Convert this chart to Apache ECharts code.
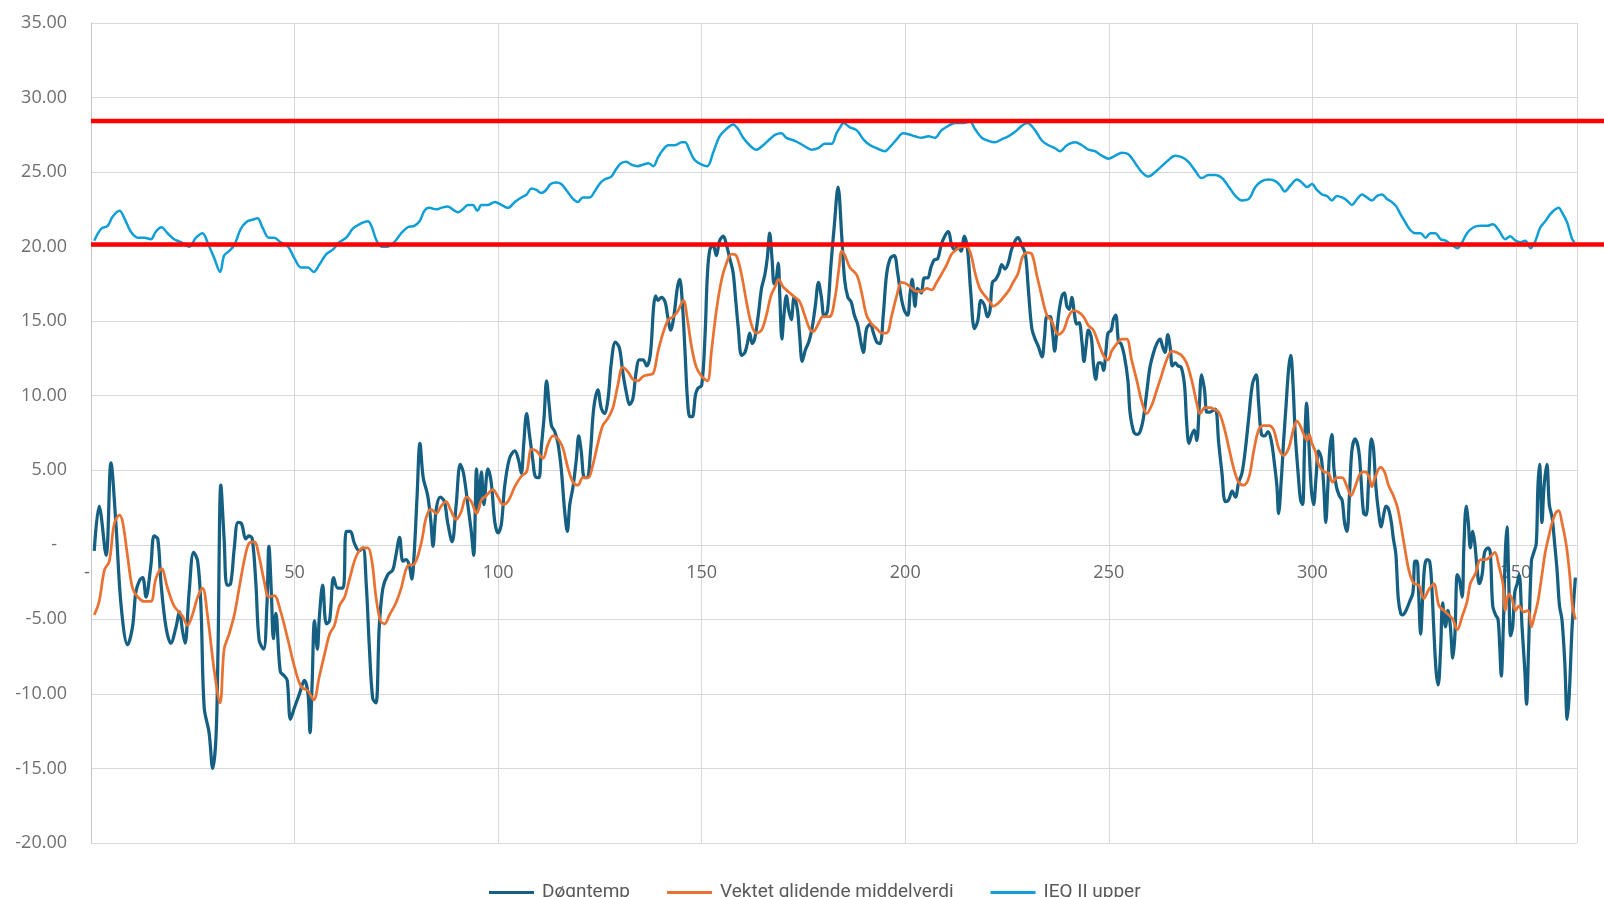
<!DOCTYPE html>
<html>
<head>
<meta charset="utf-8">
<script src="https://cdn.jsdelivr.net/npm/echarts@6/dist/echarts.min.js"></script>
<style>
html,body{margin:0;padding:0;background:#fff;}
#c{width:1604px;height:897px;}
</style>
</head>
<body>
<div id="c"></div>
<script>
// ---- Data (x = day of year) ----
const seriesNames = ['Døgntemp', 'Vektet glidende middelverdi', 'IEQ II upper'];

const dtDays = [0.8,2.0,3.7,4.9,6.1,7.4,9.0,10.2,11.0,11.9,12.7,13.5,14.7,15.5,16.4,17.2,18.4,19.6,20.9,21.7,22.5,23.1,24.1,25.2,26.2,27.0,27.8,29.0,29.9,30.7,31.2,31.9,32.7,33.4,34.3,35.2,36.1,37.0,38.0,38.8,39.6,40.5,41.3,42.4,43.2,43.7,44.3,44.8,45.4,46.5,47.5,48.2,49.0,50.0,51.2,52.4,53.3,53.8,54.3,54.9,55.6,56.1,56.9,57.8,58.6,59.6,60.6,61.9,62.7,63.7,64.7,65.9,66.8,67.6,68.4,69.2,70.0,70.8,71.7,72.9,74.1,74.9,75.8,76.6,77.4,78.2,78.8,79.4,80.1,80.8,81.6,82.7,83.5,84.0,84.8,85.8,86.8,87.6,88.7,89.7,90.7,91.5,92.6,93.4,94.0,94.7,95.2,95.9,96.5,97.5,98.3,99.2,100.0,100.8,101.6,102.8,104.1,105.0,105.7,106.3,107.0,107.7,108.6,109.1,110.0,110.6,111.3,111.9,112.6,113.1,113.9,114.7,115.5,116.3,117.0,117.6,118.4,119.2,119.8,120.4,121.2,121.9,122.7,123.5,124.5,125.3,126.1,127.0,127.8,128.8,129.8,130.6,131.5,132.3,133.1,133.9,134.7,135.6,136.5,137.4,138.2,138.7,139.3,140.1,141.0,141.6,142.4,143.2,144.0,144.6,145.3,145.9,146.5,147.1,147.7,148.5,149.1,150.0,150.8,151.4,152.0,152.8,153.6,154.4,155.3,156.1,156.9,157.7,158.3,159.0,159.8,160.6,161.2,161.8,162.4,163.0,163.9,164.7,165.5,166.1,166.7,167.3,167.8,168.3,168.8,169.2,169.7,170.2,170.8,171.4,172.0,172.7,173.5,174.1,174.7,175.5,176.3,177.1,177.9,178.7,179.4,180.1,180.9,181.7,182.6,183.5,184.4,185.1,185.9,186.7,187.5,188.3,189.1,189.7,190.5,191.4,192.2,193.0,193.8,194.6,195.4,196.3,197.3,198.1,199.0,199.8,200.6,201.2,201.7,202.4,203.0,203.9,204.7,205.5,206.3,207.1,208.0,208.8,209.7,210.6,211.4,212.2,213.0,213.7,214.5,215.3,216.1,217.0,217.8,218.6,219.4,220.2,220.8,221.4,222.2,223.0,223.7,224.5,225.3,226.1,227.0,227.7,228.6,229.5,230.3,231.1,231.9,232.7,233.6,234.2,234.8,235.6,236.2,236.7,237.2,237.8,238.5,239.1,239.7,240.3,240.9,241.6,242.1,242.7,243.4,243.9,244.4,245.0,245.7,246.2,246.8,247.5,248.1,248.7,249.3,249.8,250.6,251.1,251.7,252.4,253.0,253.8,254.7,255.2,256.1,256.9,257.7,258.5,259.3,260.1,261.0,261.8,262.6,263.2,263.8,264.5,265.1,265.6,266.3,267.0,267.8,268.6,269.1,269.7,270.4,271.0,271.6,272.2,272.8,273.5,274.1,274.8,275.5,276.2,277.0,277.8,278.6,279.4,280.3,281.1,281.9,282.7,283.5,284.4,285.3,286.2,286.8,287.5,288.3,289.1,289.9,290.7,291.3,291.7,292.4,292.9,293.5,294.2,294.7,295.2,295.8,296.5,297.1,297.6,298.1,298.6,299.1,299.7,300.3,300.9,301.5,302.2,302.8,303.3,303.8,304.3,304.8,305.3,305.9,306.6,307.3,307.9,308.5,309.1,309.7,310.5,311.4,312.0,312.6,313.2,313.8,314.5,315.0,315.6,316.3,316.9,317.5,318.1,318.7,319.4,319.9,320.5,321.1,321.7,322.2,323.0,323.9,324.7,325.2,325.7,326.1,326.6,327.1,327.6,328.2,328.8,329.3,329.8,330.4,330.9,331.5,332.0,332.7,333.3,333.9,334.5,335.0,335.6,336.1,336.8,337.2,337.8,338.3,338.8,339.4,339.9,340.5,341.0,341.7,342.3,343.2,343.7,344.3,345.0,345.6,346.0,346.4,346.9,347.4,347.8,348.2,348.7,349.2,349.7,350.3,350.8,351.5,352.2,352.6,353.1,353.8,354.4,355.0,355.4,355.8,356.4,356.9,357.6,358.2,358.9,359.5,360.1,360.7,361.3,362.0,362.6,363.1,363.8,364.6];
const dtVals = [-0.4,2.6,-0.7,5.5,1.5,-4.1,-6.7,-5.5,-3.2,-2.4,-2.2,-3.5,-1.4,0.6,0.4,-2.6,-5.5,-6.6,-5.5,-4.5,-5.8,-6.6,-3.2,-0.5,-1.1,-4.1,-10.9,-12.6,-15.0,-12.9,-7.0,4.0,0.4,-2.7,-2.6,-0.2,1.5,1.4,0.4,0.6,0.4,-2.6,-6.4,-7.0,-4.1,-0.1,-3.2,-6.3,-4.6,-8.5,-8.8,-9.1,-11.7,-10.9,-10.0,-9.1,-10.0,-12.6,-9.4,-5.1,-7.0,-4.8,-2.7,-5.3,-5.1,-2.2,-2.9,-2.9,0.9,0.9,0.1,-0.4,-0.2,-2.6,-7.0,-10.3,-10.6,-5.5,-2.9,-2.0,-1.7,-0.7,0.5,-1.1,-1.0,-1.4,-2.3,-0.5,3.3,6.8,4.5,3.3,1.5,-0.1,2.4,3.2,2.9,1.5,0.2,2.7,5.4,4.8,2.6,0.9,-0.7,5.1,2.4,4.9,2.7,5.1,4.2,1.5,0.8,1.4,3.9,5.8,6.3,5.7,4.8,6.8,8.8,7.4,5.5,4.6,4.5,6.5,8.6,11.0,9.2,8.0,7.6,6.8,5.1,2.4,0.9,2.7,3.9,5.7,7.3,6.3,4.5,4.5,6.3,9.2,10.4,9.2,8.8,9.8,12.2,13.6,13.2,11.6,10.2,9.4,9.8,11.6,12.4,12.4,12.0,12.8,16.0,16.7,16.4,16.6,16.3,15.4,14.4,15.4,17.2,17.8,16.0,13.0,9.8,8.6,8.6,10.1,10.5,10.7,13.9,18.1,19.8,20.1,19.4,20.4,20.7,20.1,19.2,18.3,16.6,14.5,12.7,12.9,13.5,14.2,13.5,13.8,15.4,17.2,18.1,19.2,20.9,19.1,17.5,17.8,18.9,16.6,13.8,15.4,16.7,15.7,15.1,16.6,15.8,13.9,12.3,13.1,13.6,14.5,16.0,17.6,16.6,15.3,15.7,18.6,21.5,24.0,20.7,17.8,16.6,16.3,15.4,14.8,13.6,12.9,14.5,14.8,14.2,13.6,13.5,15.4,18.1,19.2,19.4,18.3,16.6,15.7,15.4,16.9,17.8,16.0,17.2,16.9,17.9,17.9,18.6,19.1,19.2,20.1,20.7,21.0,20.1,19.8,20.0,19.7,20.7,19.8,16.9,14.5,15.0,16.4,16.1,15.3,15.7,17.6,17.8,18.2,18.8,18.5,18.9,19.8,20.4,20.6,20.1,19.5,16.9,14.5,13.8,13.3,12.6,13.9,15.3,15.3,14.2,13.0,14.2,15.7,16.7,16.9,16.0,15.8,16.6,15.4,14.8,14.9,13.6,12.3,13.3,14.4,13.9,12.2,11.1,12.2,12.2,11.7,13.0,14.2,14.4,15.1,15.4,13.6,13.5,12.7,11.0,8.9,7.6,7.4,7.6,8.5,10.2,11.9,12.9,13.5,13.8,13.3,12.9,14.1,13.2,12.0,12.2,12.0,11.9,10.7,8.3,6.8,7.4,7.7,7.0,9.2,11.4,10.4,8.9,8.9,9.0,9.1,6.8,4.8,2.9,3.0,3.6,3.2,4.2,4.8,6.3,8.6,10.8,11.4,9.5,7.4,7.3,7.6,7.0,5.4,3.9,2.1,4.5,6.8,9.2,11.9,12.7,11.0,7.4,4.8,3.0,2.7,6.8,9.5,7.1,3.9,2.7,4.5,6.3,5.8,3.9,1.5,3.9,6.5,7.4,5.1,3.9,3.3,3.0,1.5,0.9,3.3,6.3,7.1,6.3,4.2,2.1,2.0,4.2,7.1,6.5,3.9,2.1,1.2,2.0,2.6,2.4,1.5,0.4,-0.6,-3.6,-4.6,-4.7,-4.4,-3.8,-3.2,-1.1,-1.1,-3.2,-6.0,-3.5,-1.4,-1.0,-1.1,-2.6,-5.5,-8.5,-9.4,-7.0,-3.9,-5.5,-4.4,-5.5,-7.6,-6.1,-2.0,-2.3,-3.5,-0.2,2.6,1.5,-0.2,0.9,0.1,-1.7,-2.6,-2.0,-0.5,-0.2,-0.5,-4.1,-4.7,-5.0,-6.7,-8.8,-5.5,-0.5,1.2,-2.0,-6.1,-5.5,-3.2,-2.6,-2.0,-5.5,-8.5,-10.7,-7.0,-1.1,-0.5,0.1,3.9,5.4,1.5,3.9,5.4,2.7,1.8,0.1,-1.7,-4.1,-5.0,-7.9,-11.7,-10.0,-5.5,-2.2];

const maDays = [0.8,2.0,3.3,4.5,5.7,7.0,7.8,9.0,10.2,11.5,13.1,14.7,15.9,17.3,18.8,20.4,22.5,23.7,24.9,26.2,27.4,28.6,30.3,31.7,32.7,33.9,35.2,36.4,37.6,38.8,40.1,41.3,42.5,43.7,45.0,46.5,48.4,50.0,51.6,53.3,54.7,56.1,57.4,58.6,59.8,61.0,62.3,63.5,65.1,66.8,68.0,69.0,70.0,71.1,72.1,73.3,74.9,76.2,77.8,79.4,81.1,82.3,83.5,84.8,86.0,87.2,88.4,89.7,90.9,92.2,93.4,94.7,95.9,97.1,98.7,100.0,101.2,102.4,104.1,105.7,107.0,108.2,109.4,111.0,112.2,113.5,114.7,115.9,117.1,118.4,119.6,120.8,122.1,123.3,124.5,125.7,127.0,128.2,129.4,130.6,131.9,133.1,134.3,135.6,136.8,138.1,139.3,140.5,141.8,143.0,144.2,145.5,146.5,147.5,148.7,150.0,151.4,152.4,153.6,154.9,156.1,157.3,158.5,159.8,161.0,162.2,163.4,164.7,165.9,167.0,168.0,168.9,170.0,171.2,172.9,174.1,175.3,176.5,177.4,178.6,179.8,181.4,182.7,183.7,184.4,185.2,186.4,188.1,189.3,190.5,191.8,193.0,194.2,195.4,196.7,197.9,199.1,200.3,201.6,202.8,204.0,205.3,206.5,207.7,209.0,210.2,211.4,212.6,213.8,215.1,216.1,217.1,218.3,219.6,220.8,221.6,222.8,224.1,225.3,226.5,227.7,228.8,229.9,231.1,232.3,233.6,234.8,236.0,237.6,238.9,240.1,241.3,242.6,243.8,245.0,246.2,247.5,248.7,249.8,250.7,252.0,253.2,254.4,255.6,256.9,258.1,259.3,260.6,261.8,263.0,264.2,265.5,266.7,267.9,269.1,270.4,271.6,272.4,273.6,274.9,275.8,277.0,278.2,279.5,280.7,281.9,283.1,284.4,285.6,286.8,288.0,289.3,290.5,291.7,292.9,294.2,295.4,296.2,297.0,297.9,298.7,299.2,299.9,300.7,301.5,302.8,304.0,305.0,306.0,307.3,308.5,309.5,310.5,311.8,313.0,314.0,314.6,315.4,316.7,317.7,318.7,319.9,321.0,322.5,323.7,324.9,326.1,327.4,328.6,329.8,331.1,332.3,333.5,334.5,335.6,336.8,338.0,338.8,340.1,341.3,342.5,343.7,344.8,345.8,346.8,347.4,348.2,349.0,349.9,350.8,351.9,353.0,353.8,354.6,355.4,356.4,357.2,358.1,358.9,359.7,360.5,361.3,362.3,363.1,363.9,364.6];
const maVals = [-4.7,-3.8,-1.7,-1.1,1.4,2.0,1.5,-0.8,-2.9,-3.5,-3.8,-3.8,-2.3,-1.6,-2.9,-4.1,-4.8,-5.4,-4.7,-3.5,-2.9,-4.7,-8.5,-10.6,-7.0,-6.0,-4.7,-2.9,-1.1,0.1,0.2,-0.8,-2.4,-3.5,-3.4,-4.4,-6.4,-8.2,-9.5,-9.8,-10.4,-8.8,-7.3,-6.0,-5.4,-4.1,-3.5,-2.3,-0.8,-0.2,-0.2,-1.1,-3.5,-5.1,-5.3,-4.7,-3.9,-2.9,-1.4,-1.3,0.1,1.8,2.4,2.1,2.6,2.9,2.3,1.7,2.2,3.2,2.9,2.1,3.0,3.3,3.7,3.2,2.7,2.9,3.9,4.6,4.9,6.4,6.3,5.8,6.7,7.3,7.1,6.5,5.2,4.2,4.0,4.5,4.5,5.4,6.8,8.0,8.5,9.2,10.7,11.9,11.6,11.1,11.0,11.3,11.4,11.5,13.0,14.2,15.1,15.3,15.7,16.4,15.1,13.3,11.9,11.3,11.0,13.0,15.7,17.8,18.9,19.5,19.4,18.1,16.3,14.8,14.2,14.4,15.4,16.7,17.3,17.8,17.3,17.0,16.6,16.3,15.4,14.5,14.3,14.8,15.3,15.3,16.5,18.5,19.7,19.4,18.6,18.1,16.9,15.4,14.8,14.5,14.2,14.2,15.4,16.7,17.6,17.5,17.2,17.0,17.0,17.2,17.1,17.6,18.2,18.8,19.5,19.8,20.0,20.0,19.5,18.3,17.2,16.7,16.3,16.0,16.2,16.6,17.0,17.6,18.2,19.3,19.6,19.5,18.1,16.6,15.4,15.0,14.1,14.4,15.3,15.7,15.6,15.3,14.7,14.4,13.5,12.7,12.4,13.0,13.5,13.8,13.8,12.4,11.0,9.6,8.8,9.4,10.4,11.4,12.4,13.0,12.9,12.7,12.2,11.0,9.5,8.8,9.2,9.2,9.1,8.9,8.0,6.5,5.1,4.2,4.0,4.5,6.3,7.7,8.0,8.0,7.7,6.5,6.0,6.5,7.8,8.3,8.0,7.4,7.0,7.4,6.8,6.3,5.4,4.9,4.8,4.2,4.5,4.5,3.9,3.3,3.9,4.8,4.9,4.5,3.9,4.5,5.2,4.9,4.0,3.3,2.4,0.1,-1.7,-2.6,-2.7,-3.6,-3.0,-2.6,-4.1,-4.4,-4.7,-5.0,-5.7,-4.8,-3.8,-2.6,-1.9,-1.0,-1.0,-0.8,-0.5,-1.4,-2.6,-4.4,-3.3,-3.6,-4.4,-4.1,-4.5,-4.4,-5.5,-4.7,-3.8,-2.0,-0.5,0.6,1.5,2.1,2.3,1.5,0.1,-1.7,-4.1,-5.0];

const ieqDays = [0.8,2.5,4.1,5.3,7.0,8.2,9.8,11.5,13.1,14.7,15.9,17.3,18.8,20.4,22.1,24.1,25.8,27.4,28.6,30.3,31.7,32.7,33.9,35.2,36.8,38.4,39.6,40.9,42.1,43.7,45.0,46.5,48.4,50.0,51.6,53.3,54.7,56.1,57.8,59.4,61.0,62.7,64.3,65.9,68.0,69.0,70.0,71.3,72.9,74.5,76.2,77.8,79.4,80.7,81.9,83.1,84.8,86.0,87.6,88.8,90.1,91.3,92.6,93.8,94.9,95.9,97.5,99.2,100.8,102.4,104.1,105.7,107.0,108.2,109.4,110.6,111.8,112.9,114.3,115.5,117.0,118.4,119.6,120.8,122.5,123.7,124.9,126.1,127.8,129.0,130.2,131.5,132.7,134.3,135.6,136.9,138.1,139.3,140.5,141.8,143.4,145.1,145.9,147.1,148.3,150.0,151.4,152.8,154.4,156.1,157.7,158.9,160.2,161.8,163.4,165.1,166.7,168.0,169.6,170.8,172.9,174.9,177.0,178.6,180.2,181.9,183.1,184.0,184.8,186.4,188.1,189.7,191.4,193.0,195.0,196.3,197.9,199.5,201.2,202.4,204.0,205.7,207.3,208.9,210.6,212.2,214.3,215.9,217.1,218.8,220.4,222.0,223.7,225.3,227.0,228.6,230.0,231.9,233.6,235.2,236.8,238.0,239.7,241.7,243.4,245.0,246.6,248.3,249.9,251.6,253.2,254.8,256.5,258.1,259.7,261.4,263.0,264.6,266.3,267.9,269.5,271.2,272.8,274.5,276.2,277.8,279.5,281.1,282.7,284.4,286.0,287.6,289.3,290.9,292.1,293.2,294.6,296.2,297.4,298.7,299.9,301.1,302.4,303.6,304.8,306.0,307.3,308.5,309.7,311.0,312.2,313.4,314.6,315.9,317.1,318.3,319.5,320.6,321.6,322.9,324.1,325.3,326.6,327.8,329.0,330.2,331.5,332.7,334.3,335.6,336.8,338.0,339.6,341.3,342.9,344.3,345.8,347.4,348.6,349.9,351.1,352.3,353.6,354.8,356.0,357.2,358.5,359.7,360.5,361.3,362.6,363.8,364.4];
const ieqVals = [20.4,21.2,21.4,22.0,22.4,21.9,21.0,20.6,20.6,20.5,21.0,21.3,20.9,20.5,20.3,20.0,20.6,20.9,20.3,19.2,18.3,19.4,19.7,20.1,21.2,21.7,21.8,21.9,21.3,20.6,20.6,20.3,20.0,19.2,18.6,18.6,18.3,18.8,19.5,19.8,20.3,20.6,21.2,21.5,21.7,21.3,20.5,20.0,20.0,20.3,20.9,21.3,21.4,21.7,22.4,22.6,22.5,22.6,22.7,22.5,22.3,22.5,22.8,22.8,22.4,22.8,22.8,23.0,22.8,22.6,23.0,23.3,23.5,23.9,23.8,23.6,23.8,24.2,24.3,24.2,23.7,23.2,23.0,23.3,23.3,23.7,24.2,24.5,24.7,25.2,25.6,25.7,25.5,25.4,25.5,25.6,25.4,26.0,26.5,26.8,26.8,27.0,27.0,26.4,25.8,25.5,25.4,26.3,27.4,27.9,28.2,27.9,27.3,26.8,26.5,26.8,27.2,27.5,27.6,27.3,27.1,26.8,26.5,26.6,26.9,26.9,27.6,28.0,28.3,28.0,27.8,27.2,26.8,26.6,26.4,26.7,27.2,27.6,27.5,27.4,27.3,27.4,27.3,27.8,28.1,28.3,28.3,28.4,27.9,27.3,27.1,27.0,27.2,27.4,27.7,28.1,28.3,27.8,27.1,26.8,26.6,26.4,26.8,27.0,26.8,26.5,26.4,26.1,25.9,26.1,26.3,26.2,25.6,25.0,24.7,25.0,25.4,25.8,26.1,26.0,25.7,25.1,24.6,24.8,24.8,24.6,24.0,23.4,23.1,23.2,24.0,24.4,24.5,24.4,24.1,23.7,24.1,24.5,24.3,24.0,24.2,23.8,23.5,23.4,23.1,23.4,23.3,23.1,22.8,23.2,23.5,23.3,23.1,23.4,23.5,23.2,23.0,22.7,22.2,21.6,21.1,20.9,20.9,20.6,20.9,20.9,20.5,20.4,20.1,19.9,20.3,20.9,21.3,21.4,21.4,21.5,21.1,20.5,20.7,20.4,20.3,20.4,19.9,20.4,21.3,21.7,22.2,22.5,22.6,22.3,21.6,20.5,20.3];

// Horizontal red reference lines (°C)
const redLevels = [28.42, 20.15];

// Axis settings and tick labels
const xTicks = {min: 0, max: 365, interval: 50};
const xTickValues = [0, 50, 100, 150, 200, 250, 300, 350];
const yTicks = {min: -20, max: 35, interval: 5};

// ---- Chart ----
const pts = (xs, ys) => xs.map((x, i) => [x, ys[i]]);
const chart = echarts.init(document.getElementById('c'), null, {renderer: 'canvas'});
const labelColor = '#6f6f6f';
const axisFont = '"Open Sans", "Liberation Sans", sans-serif';

const option = {
  animation: false,
  backgroundColor: '#ffffff',
  grid: [
    {left: 91, right: 27, top: 23, bottom: 54},
    {left: 91, right: 0, top: 23, bottom: 54}
  ],
  xAxis: [
    {
      type: 'value', gridIndex: 0, min: xTicks.min, max: xTicks.max, interval: xTicks.interval,
      axisLine: {show: false},
      axisTick: {show: false},
      splitLine: {show: true, lineStyle: {color: '#d9d9d9', width: 1}},
      axisLabel: {show: false}
    },
    {type: 'value', gridIndex: 1, min: 0, max: 1, show: false}
  ],
  yAxis: [
    {
      type: 'value', gridIndex: 0, min: yTicks.min, max: yTicks.max, interval: yTicks.interval,
      axisLine: {show: true, onZero: false, lineStyle: {color: '#c4c4c4', width: 1}},
      axisTick: {show: false},
      splitLine: {show: true, lineStyle: {color: '#d9d9d9', width: 1}},
      axisLabel: {
        margin: 24, color: labelColor, fontSize: 18, fontFamily: axisFont,
        formatter: v => v === 0 ? '{d|-}' : v.toFixed(2),
        rich: {d: {color: labelColor, fontSize: 18, fontFamily: axisFont, padding: [0, 10, 0, 0]}}
      }
    },
    {type: 'value', gridIndex: 1, min: yTicks.min, max: yTicks.max, show: false}
  ],
  legend: {
    data: seriesNames,
    left: 484, top: 878,
    icon: 'rect', itemWidth: 45, itemHeight: 3, itemGap: 37,
    textStyle: {fontSize: 19, color: '#595959', fontFamily: 'Roboto, "Liberation Sans", sans-serif', padding: [0, 0, 0, 3]}
  },
  series: [
    {
      // x tick labels placed on the zero line (axis crossing at y = 0)
      type: 'scatter', xAxisIndex: 0, yAxisIndex: 0, silent: true, z: 1,
      symbolSize: 0, symbol: 'circle',
      itemStyle: {opacity: 1, color: labelColor},
      emphasis: {disabled: true},
      data: xTickValues.map(v => [v, 0]),
      label: {
        show: true, position: 'bottom', distance: 19, opacity: 1,
        color: '#666666', fontSize: 18, fontFamily: axisFont,
        textBorderWidth: 0, textBorderColor: 'transparent', textShadowBlur: 0,
        formatter: p => p.value[0] === 0 ? '{d|-}' : String(p.value[0]),
        rich: {d: {color: '#666666', fontSize: 18, fontFamily: axisFont, textBorderWidth: 0, padding: [0, 8, 0, 0]}}
      }
    },
    {
      name: seriesNames[0], type: 'line', xAxisIndex: 0, yAxisIndex: 0,
      data: pts(dtDays, dtVals), smooth: 0.35, symbol: 'none', showSymbol: false,
      lineStyle: {color: '#156082', width: 3.25}, itemStyle: {color: '#156082'}, z: 2
    },
    {
      name: seriesNames[1], type: 'line', xAxisIndex: 0, yAxisIndex: 0,
      data: pts(maDays, maVals), smooth: 0.35, symbol: 'none', showSymbol: false,
      lineStyle: {color: '#E97132', width: 2.75}, itemStyle: {color: '#E97132'}, z: 3
    },
    {
      name: seriesNames[2], type: 'line', xAxisIndex: 0, yAxisIndex: 0,
      data: pts(ieqDays, ieqVals), smooth: 0.35, symbol: 'none', showSymbol: false,
      lineStyle: {color: '#0F9ED5', width: 2.5}, itemStyle: {color: '#0F9ED5'}, z: 3
    }
  ].concat(redLevels.map(v => ({
    type: 'line', xAxisIndex: 1, yAxisIndex: 1, silent: true,
    data: [[0, v], [1, v]], symbol: 'none', showSymbol: false,
    lineStyle: {color: '#FF0000', width: 4.5}, z: 5
  })))
};
chart.setOption(option);
</script>
</body>
</html>
